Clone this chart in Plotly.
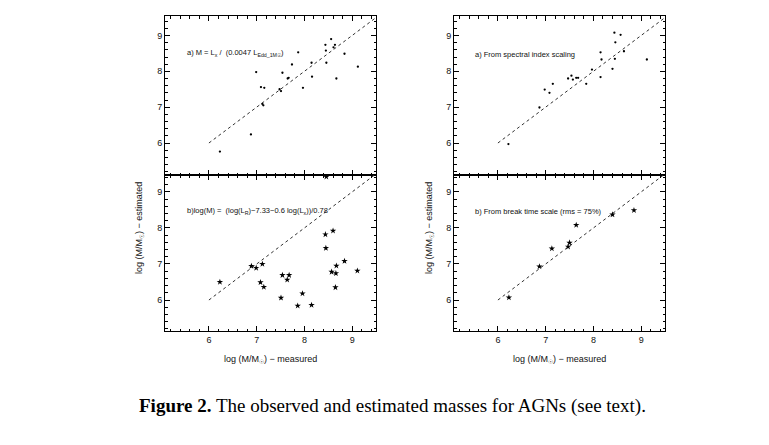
import plotly.graph_objects as go

W, H = 769, 445

# panel a (left): M = Lx / (0.0047 L_Edd)
a1_meas = [6.23, 6.88, 6.99, 7.09, 7.16, 7.12, 7.14, 7.48, 7.51, 7.54, 7.65, 7.67,
           7.74, 7.87, 7.97, 8.15, 8.16, 8.44, 8.45, 8.46, 8.56, 8.61, 8.64, 8.67,
           8.84, 9.12]
a1_est = [5.76, 6.24, 7.98, 7.56, 7.54, 7.09, 7.05, 7.50, 7.45, 7.96, 7.80, 7.82,
          8.19, 8.53, 7.54, 8.24, 7.85, 8.74, 8.58, 8.24, 8.90, 8.67, 8.74, 7.80,
          8.49, 8.13]

# panel b (left): radio / X-ray fundamental plane
b1_meas = [8.46, 6.23, 6.89, 6.99, 7.12, 7.08, 7.15, 7.51, 7.54, 7.68, 7.64, 7.86,
           7.96, 8.15, 8.44, 8.45, 8.60, 8.57, 8.66, 8.67, 8.65, 8.84, 9.11]
b1_est = [9.42, 6.50, 6.94, 6.89, 7.00, 6.49, 6.36, 6.06, 6.69, 6.69, 6.56, 5.84,
          6.18, 5.86, 7.82, 7.44, 7.92, 6.78, 6.74, 6.95, 6.35, 7.08, 6.81]

# panel a (right): spectral index scaling
a2_meas = [6.22, 6.87, 6.98, 7.08, 7.15, 7.47, 7.54, 7.57, 7.64, 7.68, 7.85, 7.97,
           8.15, 8.17, 8.15, 8.40, 8.44, 8.46, 8.45, 8.57, 8.64, 9.12]
a2_est = [5.97, 6.99, 7.49, 7.40, 7.65, 7.80, 7.88, 7.77, 7.82, 7.82, 7.65, 8.05,
          8.53, 8.33, 7.84, 8.07, 9.08, 8.81, 8.35, 9.02, 8.56, 8.33]

# panel b (right): break time scale
b2_meas = [6.23, 6.87, 7.13, 7.47, 7.50, 7.64, 8.40, 8.85]
b2_est = [6.07, 6.93, 7.43, 7.48, 7.59, 8.08, 8.37, 8.49]

# one-to-one line
ref_line = [6.0, 9.5]

x_range = [5.08, 9.5]
y_range_top = [5.107, 9.544]
y_range_bot = [5.14, 9.47]


def px(x):
    return x / W


def py(y):
    return 1 - y / H


fig = go.Figure()

panels = [
    # (xaxis, yaxis, x, y, symbol, size)
    ('x', 'y', a1_meas, a1_est, 'circle', 2.3),
    ('x2', 'y2', b1_meas, b1_est, 'star', 4.8),
    ('x3', 'y3', a2_meas, a2_est, 'circle', 2.3),
    ('x4', 'y4', b2_meas, b2_est, 'star', 4.8),
]

for xa, ya, xs, ys, sym, sz in panels:
    fig.add_trace(go.Scatter(
        x=ref_line, y=ref_line, mode='lines', xaxis=xa, yaxis=ya,
        line=dict(color='#333', width=1, dash='3px,3px'),
        hoverinfo='skip', showlegend=False
    ))
    fig.add_trace(go.Scatter(
        x=xs, y=ys, mode='markers', xaxis=xa, yaxis=ya,
        marker=dict(symbol=sym, size=sz, color='black', line=dict(width=0)),
        showlegend=False
    ))

tick_font = dict(family='Liberation Sans, Arial', size=9, color='#111')


def axis_style(rng, domain, labels, anchor):
    return dict(
        range=rng, domain=domain, anchor=anchor,
        showline=True, linecolor='black', linewidth=1, mirror='allticks',
        ticks='inside', ticklen=5, tickcolor='black', tickwidth=1,
        dtick=1, tick0=0, showgrid=False, zeroline=False,
        showticklabels=labels, tickfont=tick_font,
        minor=dict(dtick=0.2, tick0=0, ticks='inside', ticklen=2.5,
                   tickcolor='black', tickwidth=1, showgrid=False),
    )


xl = [px(157), px(368)]
xr = [px(446), px(657)]
yt = [py(167), py(8)]
yb = [py(323), py(167)]

fig.update_layout(
    width=W, height=H,
    margin=dict(l=0, r=0, t=0, b=0),
    paper_bgcolor='white', plot_bgcolor='white',
    xaxis=axis_style(x_range, xl, False, 'y'),
    yaxis=axis_style(y_range_top, yt, True, 'x'),
    xaxis2=axis_style(x_range, xl, True, 'y2'),
    yaxis2=axis_style(y_range_bot, yb, True, 'x2'),
    xaxis3=axis_style(x_range, xr, False, 'y3'),
    yaxis3=axis_style(y_range_top, yt, True, 'x3'),
    xaxis4=axis_style(x_range, xr, True, 'y4'),
    yaxis4=axis_style(y_range_bot, yb, True, 'x4'),
)

note_font = dict(family='Liberation Sans, Arial', size=7.5, color='#111')
title_font = dict(family='Liberation Sans, Arial', size=9, color='#111')

notes = [
    (177, 45, 'a) M = L<sub>x</sub> /  (0.0047 L<sub>Edd_1M☉</sub>)'),
    (465, 46.5, 'a) From spectral index scaling'),
    (177, 203, 'b)log(M) =  (log(L<sub>R</sub>)−7.33−0.6 log(L<sub>x</sub>))/0.78'),
    (465, 203, 'b) From break time scale (rms = 75%)'),
]
for x, y, t in notes:
    fig.add_annotation(x=px(x), y=py(y), xref='paper', yref='paper', text=t,
                       showarrow=False, xanchor='left', yanchor='middle',
                       font=note_font)

for x in (262, 551):
    fig.add_annotation(x=px(x), y=py(351), xref='paper', yref='paper',
                       text='log (M/M<sub>☉</sub>) − measured', showarrow=False,
                       xanchor='center', yanchor='middle', font=title_font)

for x in (131, 421):
    fig.add_annotation(x=px(x), y=py(220), xref='paper', yref='paper',
                       text='log (M/M<sub>☉</sub>) − estimated', showarrow=False,
                       textangle=-90, xanchor='center', yanchor='middle',
                       font=title_font)

fig.add_annotation(
    x=px(384), y=py(398), xref='paper', yref='paper',
    text='<b>Figure 2.</b> The observed and estimated masses for AGNs (see text).',
    showarrow=False, xanchor='center', yanchor='middle',
    font=dict(family='Liberation Serif, Times New Roman', size=19, color='black')
)

fig.write_html("out.html", config={'displayModeBar': False})
